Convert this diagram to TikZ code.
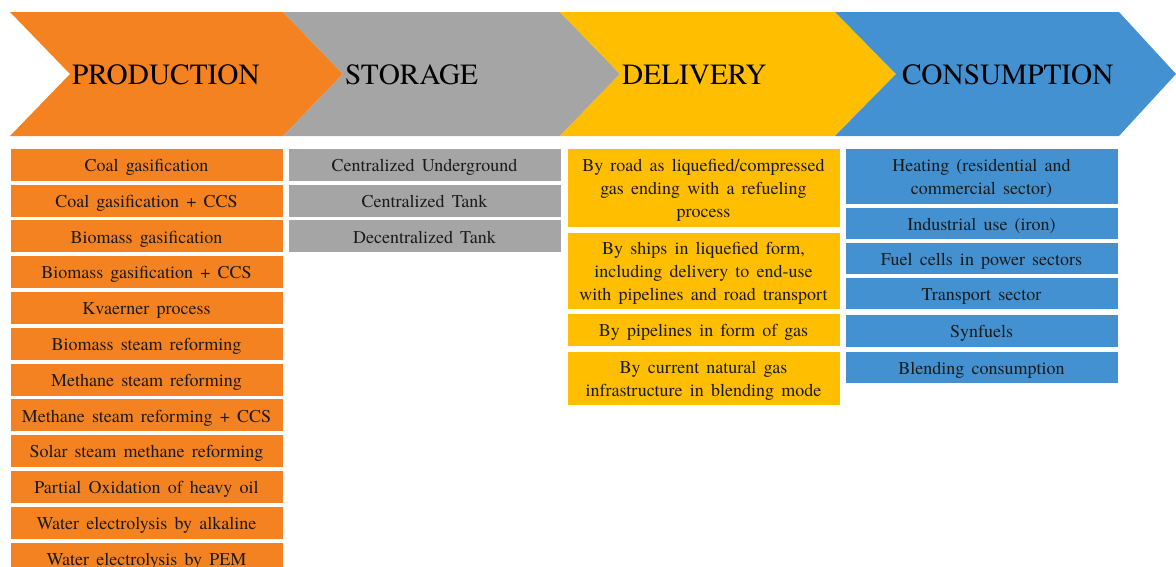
\documentclass[tikz,border=0pt]{standalone}
\usepackage{fontspec}
\setmainfont{texgyretermes}[Extension=.otf,UprightFont=*-regular,
  BoldFont=*-bold,ItalicFont=*-italic,BoldItalicFont=*-bolditalic]
\definecolor{prodcol}{HTML}{F58220}
\definecolor{storcol}{HTML}{A5A5A5}
\definecolor{delcol}{HTML}{FFBE00}
\definecolor{conscol}{HTML}{4391D0}
\definecolor{boxtext}{HTML}{1A1A1A}
% cell text: Times-like face with loose word spacing
\newcommand\cellfont{\fontsize{18}{23}\selectfont\spaceskip=0.4em plus 0.1em\relax}
\newcommand\topstrut{\vrule height 18pt depth 0pt width 0pt\relax}
\newcommand\botstrut{\vrule height 0pt depth 4pt width 0pt\relax}
\begin{document}
\begin{tikzpicture}[x=1pt,y=-1pt,
  stagelabel/.style={anchor=west,inner sep=0pt,text=black,
    font=\fontsize{29.3}{34}\selectfont},
  cell/.style={draw=white,line width=0.6pt,inner sep=0pt,minimum width=273pt,
    align=center,text=boxtext,font=\cellfont},
  pcell/.style={cell,fill=prodcol,minimum height=33pt},
  scell/.style={cell,fill=storcol,minimum height=33pt},
  dcell/.style={cell,fill=delcol},
  ccell/.style={cell,fill=conscol}]
\useasboundingbox (0,0) rectangle (1176,566);
\clip (0,0) rectangle (1176,566);

% stage chevrons
\fill[prodcol] (10,12) -- (283,12) -- (343,74) -- (283,136) -- (10,136) -- (70,74) -- cycle;
\fill[storcol] (283,12) -- (560,12) -- (620,74) -- (560,136) -- (283,136) -- (343,74) -- cycle;
\fill[delcol] (560,12) -- (835,12) -- (896,74) -- (835,136) -- (560,136) -- (620,74) -- cycle;
\fill[conscol] (835,12) -- (1119,12) -- (1176,74) -- (1119,136) -- (835,136) -- (896,74) -- cycle;

\node[stagelabel] (prod) at (72,75) {PRODUCTION};
\node[stagelabel] (stor) at (345,75) {STORAGE};
\node[stagelabel] (deli) at (622,75) {DELIVERY};
\node[stagelabel] (cons) at (902,75) {CONSUMPTION};

% production routes
\node[pcell] (p1)  at (146.5,164.5) {\topstrut Coal gasification\botstrut};
\node[pcell] (p2)  at (146.5,200.3) {\topstrut Coal gasification + CCS\botstrut};
\node[pcell] (p3)  at (146.5,236.1) {\topstrut Biomass gasification\botstrut};
\node[pcell] (p4)  at (146.5,271.9) {\topstrut Biomass gasification + CCS\botstrut};
\node[pcell] (p5)  at (146.5,307.7) {\topstrut Kvaerner process\botstrut};
\node[pcell] (p6)  at (146.5,343.5) {\topstrut Biomass steam reforming\botstrut};
\node[pcell] (p7)  at (146.5,379.3) {\topstrut Methane steam reforming\botstrut};
\node[pcell] (p8)  at (146.5,415.1) {\topstrut Methane steam reforming + CCS\botstrut};
\node[pcell] (p9)  at (146.5,450.9) {\topstrut Solar steam methane reforming\botstrut};
\node[pcell] (p10) at (146.5,486.7) {\topstrut Partial Oxidation of heavy oil\botstrut};
\node[pcell] (p11) at (146.5,522.5) {\topstrut Water electrolysis by alkaline\botstrut};
\node[pcell] (p12) at (146.5,558.3) {\topstrut Water electrolysis by PEM\botstrut};

% storage options
\node[scell] (s1) at (424.5,164.5) {\topstrut Centralized Underground\botstrut};
\node[scell] (s2) at (424.5,200.3) {\topstrut Centralized Tank\botstrut};
\node[scell] (s3) at (424.5,236.1) {\topstrut Decentralized Tank\botstrut};

% delivery modes
\node[dcell,minimum height=79pt] (d1) at (703.5,187.5)
  {\topstrut By road as liquefied/compressed\\gas ending with a refueling\\process\botstrut};
\node[dcell,minimum height=77pt] (d2) at (703.5,270.5)
  {\topstrut By ships in liquefied form,\\including delivery to end-use\\with pipelines and road transport\botstrut};
\node[dcell,minimum height=33pt] (d3) at (703.5,329.5) {\topstrut By pipelines in form of gas\botstrut};
\node[dcell,minimum height=54pt] (d4) at (703.5,378)
  {\topstrut By current natural gas\\infrastructure in blending mode\botstrut};

% consumption sectors
\node[ccell,minimum height=56pt] (c1) at (981.5,176)
  {\topstrut Heating (residential and\\commercial sector)\botstrut};
\node[ccell,minimum height=32pt] (c2) at (981.5,223) {\topstrut Industrial use (iron)\botstrut};
\node[ccell,minimum height=32pt] (c3) at (981.5,258) {\topstrut Fuel cells in power sectors\botstrut};
\node[ccell,minimum height=32pt] (c4) at (981.5,293) {\topstrut Transport sector\botstrut};
\node[ccell,minimum height=33pt] (c5) at (981.5,330.5) {\topstrut Synfuels\botstrut};
\node[ccell,minimum height=32pt] (c6) at (981.5,367) {\topstrut Blending consumption\botstrut};
\end{tikzpicture}
\end{document}
